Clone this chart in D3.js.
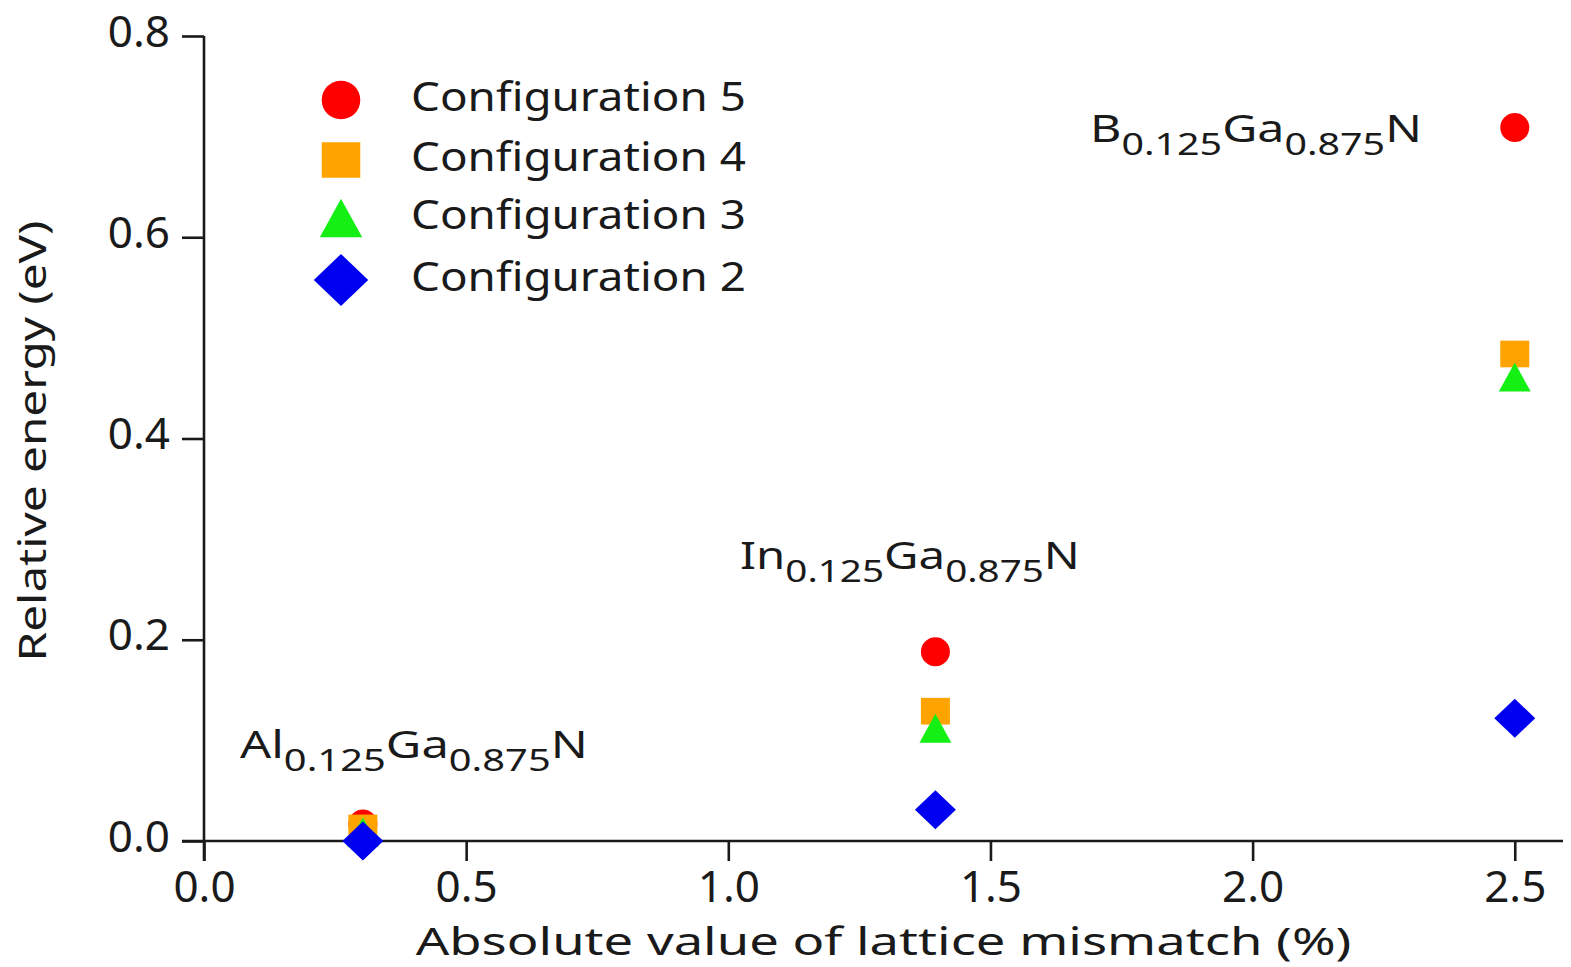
<!DOCTYPE html>
<html>
<head>
<meta charset="utf-8">
<script src="https://cdn.jsdelivr.net/npm/d3@7"></script>
<style>
  html, body { margin: 0; padding: 0; background: #fff; }
  svg { display: block; }
  text { font-family: "Noto Sans", "Open Sans", sans-serif; fill: #1a1a1a; }
</style>
</head>
<body>
<svg id="chart" width="1571" height="967"></svg>
<script>
// Lattice mismatch of each alloy against GaN (%)
const mismatch = [0.303, 1.395, 2.5];
const alloyNames = ["Al", "In", "B"];
// Relative energy of each configuration (eV), one value per alloy
const config5 = [0.017, 0.188, 0.709];
const config4 = [0.013, 0.129, 0.484];
const config3 = [0.009, 0.112, 0.461];
const config2 = [0.000, 0.031, 0.122];

const xTicks = [0.0, 0.5, 1.0, 1.5, 2.0, 2.5];
const yTicks = [0.0, 0.2, 0.4, 0.6, 0.8];

const seriesNames = ["Configuration 5", "Configuration 4", "Configuration 3", "Configuration 2"];
const seriesValues = [config5, config4, config3, config2];
const seriesColors = ["#ff0000", "#ffa300", "#14f014", "#0000f0"];

// marker shapes (custom d3.symbol types, drawn around the bbox centre)
const circleSym = { draw(ctx, s) { ctx.moveTo(s, 0); ctx.arc(0, 0, s, 0, 2 * Math.PI); } };
const squareSym = { draw(ctx, s) { ctx.rect(-s, -s * 0.92, 2 * s, 1.84 * s); } };
const triSym = { draw(ctx, s) { ctx.moveTo(0, -s); ctx.lineTo(s * 1.1, s); ctx.lineTo(-s * 1.1, s); ctx.closePath(); } };
const diamondSym = { draw(ctx, s) { ctx.moveTo(0, -s); ctx.lineTo(s * 1.05, 0); ctx.lineTo(0, s); ctx.lineTo(-s * 1.05, 0); ctx.closePath(); } };
const symbolTypes = [circleSym, squareSym, triSym, diamondSym];
const symbolSizes = [14.5, 14.5, 14.5, 19.5];
const markerPath = (i, k = 1) => d3.symbol(symbolTypes[i], symbolSizes[i] * k)();

const svg = d3.select("#chart");
const plotLeft = 204, plotRight = 1563, plotTop = 36, plotBottom = 841;

const x = d3.scaleLinear().domain([0, 2.592]).range([plotLeft, plotRight]);
const y = d3.scaleLinear().domain([0, 0.8]).range([plotBottom, plotTop]);

const axisColor = "#1a1a1a";
const tickFont = "44px";

// horizontal stretch factor that makes a text element span the given width
function fitWidth(textSel, width) {
  const w = textSel.node().getBBox().width;
  return w > 0 ? width / w : 1;
}

// x axis
const gx = svg.append("g").attr("transform", `translate(0,${plotBottom})`)
  .call(d3.axisBottom(x).tickValues(xTicks).tickFormat(d3.format(".1f")).tickSize(20).tickSizeOuter(0));
// y axis
const gy = svg.append("g").attr("transform", `translate(${plotLeft},0)`)
  .call(d3.axisLeft(y).tickValues(yTicks).tickFormat(d3.format(".1f")).tickSize(22).tickSizeOuter(0).tickPadding(12));

[gx, gy].forEach(g => {
  g.selectAll("path.domain").attr("stroke", axisColor).attr("stroke-width", 2.6);
  g.selectAll(".tick line").attr("stroke", axisColor).attr("stroke-width", 2.6);
  g.selectAll(".tick text").style("font-size", tickFont).attr("fill", "#1a1a1a");
});
gx.select("path.domain").attr("d", `M${plotLeft - 22},0H${plotRight}`);
gy.select("path.domain").attr("d", `M0,${plotTop}V${plotBottom + 20}`);
gx.selectAll(".tick text").attr("y", 61).attr("dy", 0);
gy.selectAll(".tick text").attr("y", 10).attr("dy", 0);

// axis titles
const xTitle = svg.append("g").attr("transform", `translate(${(plotLeft + plotRight) / 2},955)`);
const xTitleText = xTitle.append("text").attr("text-anchor", "middle").style("font-size", "39px")
  .text("Absolute value of lattice mismatch (%)");
xTitleText.attr("transform", `scale(${fitWidth(xTitleText, 936)},1)`);

const yTitle = svg.append("g").attr("transform", `translate(46,441) rotate(-90)`);
const yTitleText = yTitle.append("text").attr("text-anchor", "middle").style("font-size", "38px")
  .text("Relative energy (eV)");
yTitleText.attr("transform", `scale(${fitWidth(yTitleText, 441)},1)`);

// data markers
seriesValues.forEach((vals, i) => {
  svg.append("g").selectAll("path")
    .data(vals.map((v, j) => ({ x: mismatch[j], y: v })))
    .join("path")
    .attr("d", markerPath(i))
    .attr("transform", d => `translate(${x(d.x)},${y(d.y)})`)
    .attr("fill", seriesColors[i]);
});

// alloy labels, e.g. In0.125Ga0.875N with subscripted fractions
const labelBox = {
  Al: { x0: 240, base: 758, w: 348 },
  In: { x0: 740, base: 569, w: 340 },
  B:  { x0: 1090, base: 142, w: 332 }
};
alloyNames.forEach(el => {
  const b = labelBox[el];
  const g = svg.append("g").attr("transform", `translate(${b.x0},${b.base})`);
  const t = g.append("text").style("font-size", "38px");
  t.append("tspan").text(el);
  t.append("tspan").text("0.125").attr("dy", 13).style("font-size", "31px");
  t.append("tspan").text("Ga").attr("dy", -13);
  t.append("tspan").text("0.875").attr("dy", 13).style("font-size", "31px");
  t.append("tspan").text("N").attr("dy", -13);
  t.attr("transform", `scale(${fitWidth(t, b.w)},1)`);
});

// legend
const legendRows = [100, 160, 218, 280];
const lg = svg.append("g");
seriesNames.forEach((name, i) => {
  lg.append("path").attr("d", markerPath(i, 1.33))
    .attr("transform", `translate(341,${legendRows[i]})`)
    .attr("fill", seriesColors[i]);
  const g = lg.append("g").attr("transform", `translate(411,${legendRows[i] + 11})`);
  const t = g.append("text").style("font-size", "40px").text(name);
  t.attr("transform", `scale(${fitWidth(t, 335)},1)`);
});
</script>
</body>
</html>
